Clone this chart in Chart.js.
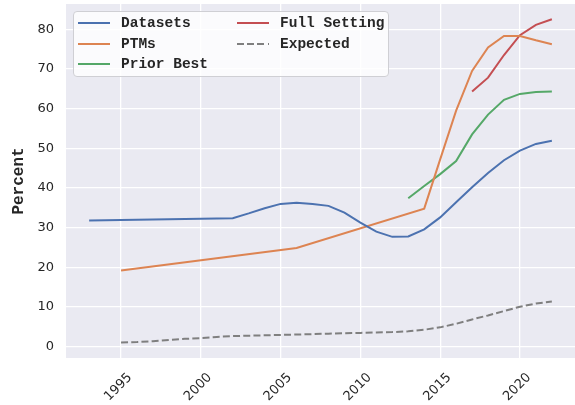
<!DOCTYPE html>
<html>
<head>
<meta charset="utf-8">
<script src="https://cdn.jsdelivr.net/npm/chart.js@4/dist/chart.umd.min.js"></script>
<style>
  body { margin: 0; background: #fff; }
  #wrap { position: relative; width: 575px; height: 405px; }
  #legend {
    position: absolute; left: 73px; top: 11px; width: 316px; height: 66px;
    box-sizing: border-box; border: 1px solid #cfcfd4; border-radius: 4px;
    background: rgba(255,255,255,0.8);
    display: grid; grid-template-columns: 159px auto; grid-template-rows: repeat(3, 20.4px);
    grid-auto-flow: column; padding: 1px 0 0 4px;
    font-family: "Liberation Mono", monospace; font-weight: bold; font-size: 14.5px; color: #262626;
  }
  .item { display: flex; align-items: center; white-space: nowrap; }
  .swatch { width: 32px; height: 2px; margin-right: 11px; }
</style>
</head>
<body>
<div id="wrap">
  <canvas id="chart" width="575" height="405"></canvas>
  <div id="legend"></div>
</div>
<script>
// valores (porcentaje por año)
const datasetYears = [1993, 2002, 2003, 2004, 2005, 2006, 2007, 2008, 2009, 2010, 2011, 2012, 2013, 2014, 2015, 2016, 2017, 2018, 2019, 2020, 2021, 2022];
const datasetValues = [31.8, 32.4, 33.6, 34.9, 36.0, 36.3, 36.0, 35.5, 33.8, 31.3, 29.0, 27.7, 27.8, 29.6, 32.6, 36.4, 40.2, 43.8, 47.0, 49.4, 51.1, 51.9];

const ptmYears = [1995, 2006, 2014, 2015, 2016, 2017, 2018, 2019, 2020, 2021, 2022];
const ptmValues = [19.2, 24.9, 34.8, 47.2, 59.5, 69.5, 75.4, 78.3, 78.3, 77.2, 76.2];

const priorYears = [2013, 2014, 2015, 2016, 2017, 2018, 2019, 2020, 2021, 2022];
const priorValues = [37.4, 40.5, 43.5, 46.8, 53.5, 58.5, 62.2, 63.7, 64.2, 64.3];

const fullYears = [2017, 2018, 2019, 2020, 2021, 2022];
const fullValues = [64.3, 67.8, 73.5, 78.5, 81.1, 82.5];

const expectedYears = [1995, 1996, 1997, 1998, 1999, 2000, 2001, 2002, 2003, 2004, 2005, 2006, 2007, 2008, 2009, 2010, 2011, 2012, 2013, 2014, 2015, 2016, 2017, 2018, 2019, 2020, 2021, 2022];
const expectedValues = [1.1, 1.2, 1.4, 1.7, 2.0, 2.2, 2.5, 2.7, 2.8, 2.9, 3.0, 3.1, 3.2, 3.3, 3.4, 3.5, 3.6, 3.7, 3.9, 4.3, 4.9, 5.8, 6.9, 7.9, 9.0, 10.1, 10.9, 11.4];

const xTicks = [1995, 2000, 2005, 2010, 2015, 2020];
const yTicks = [0, 10, 20, 30, 40, 50, 60, 70, 80];

const pts = (xs, ys) => xs.map((x, i) => ({ x: x, y: ys[i] }));

// fondo gris estilo seaborn
const bgPlugin = {
  id: 'bg',
  beforeDraw(chart) {
    const a = chart.chartArea;
    const c = chart.ctx;
    c.save();
    c.fillStyle = '#EAEAF2';
    c.fillRect(a.left, a.top, a.right - a.left, a.bottom - a.top);
    c.restore();
  }
};

const tickFont = { family: 'DejaVu Sans', size: 13 };

const chart = new Chart(document.getElementById('chart'), {
  type: 'line',
  data: {
    datasets: [
      { label: 'Datasets', data: pts(datasetYears, datasetValues), borderColor: '#4C72B0' },
      { label: 'PTMs', data: pts(ptmYears, ptmValues), borderColor: '#DD8452' },
      { label: 'Prior Best', data: pts(priorYears, priorValues), borderColor: '#55A868' },
      { label: 'Full Setting', data: pts(fullYears, fullValues), borderColor: '#C44E52' },
      { label: 'Expected', data: pts(expectedYears, expectedValues), borderColor: '#7F7F7F', borderDash: [7, 3.2] }
    ]
  },
  options: {
    responsive: false,
    animation: false,
    layout: { padding: { top: 4, right: 0, bottom: 0, left: 0 } },
    elements: {
      point: { radius: 0 },
      line: { borderWidth: 2, tension: 0, fill: false }
    },
    plugins: {
      legend: { display: false },
      tooltip: { enabled: false }
    },
    scales: {
      x: {
        type: 'linear',
        min: 1991.55,
        max: 2023.45,
        afterBuildTicks: s => { s.ticks = xTicks.map(v => ({ value: v })); },
        afterFit: s => { s.height = 47; s.paddingLeft = 0; s.paddingRight = 0; },
        grid: { color: '#ffffff', lineWidth: 1.3, drawTicks: false },
        border: { display: false },
        ticks: {
          font: tickFont, color: '#262626',
          minRotation: 45, maxRotation: 45,
          padding: 12, labelOffset: 9,
          callback: v => String(v)
        }
      },
      y: {
        min: -2.82,
        max: 86.35,
        afterBuildTicks: s => { s.ticks = yTicks.map(v => ({ value: v })); },
        afterFit: s => { s.width = 66; s.paddingTop = 0; s.paddingBottom = 0; },
        grid: { color: '#ffffff', lineWidth: 1.3, drawTicks: false },
        border: { display: false },
        ticks: { font: tickFont, color: '#262626', padding: 12 },
        title: {
          display: true, text: 'Percent', color: '#262626',
          font: { family: 'Liberation Mono', weight: 'bold', size: 16 },
          padding: { top: 9, bottom: 0 }
        }
      }
    }
  },
  plugins: [bgPlugin]
});

// leyenda HTML dentro del área del gráfico (dos columnas, como matplotlib)
const legendEl = document.getElementById('legend');
chart.data.datasets.forEach(ds => {
  const item = document.createElement('div');
  item.className = 'item';
  const sw = document.createElement('span');
  sw.className = 'swatch';
  sw.style.background = ds.borderDash
    ? 'repeating-linear-gradient(to right, ' + ds.borderColor + ' 0 7px, transparent 7px 10.2px)'
    : ds.borderColor;
  const txt = document.createElement('span');
  txt.textContent = ds.label;
  item.appendChild(sw);
  item.appendChild(txt);
  legendEl.appendChild(item);
});
</script>
</body>
</html>
